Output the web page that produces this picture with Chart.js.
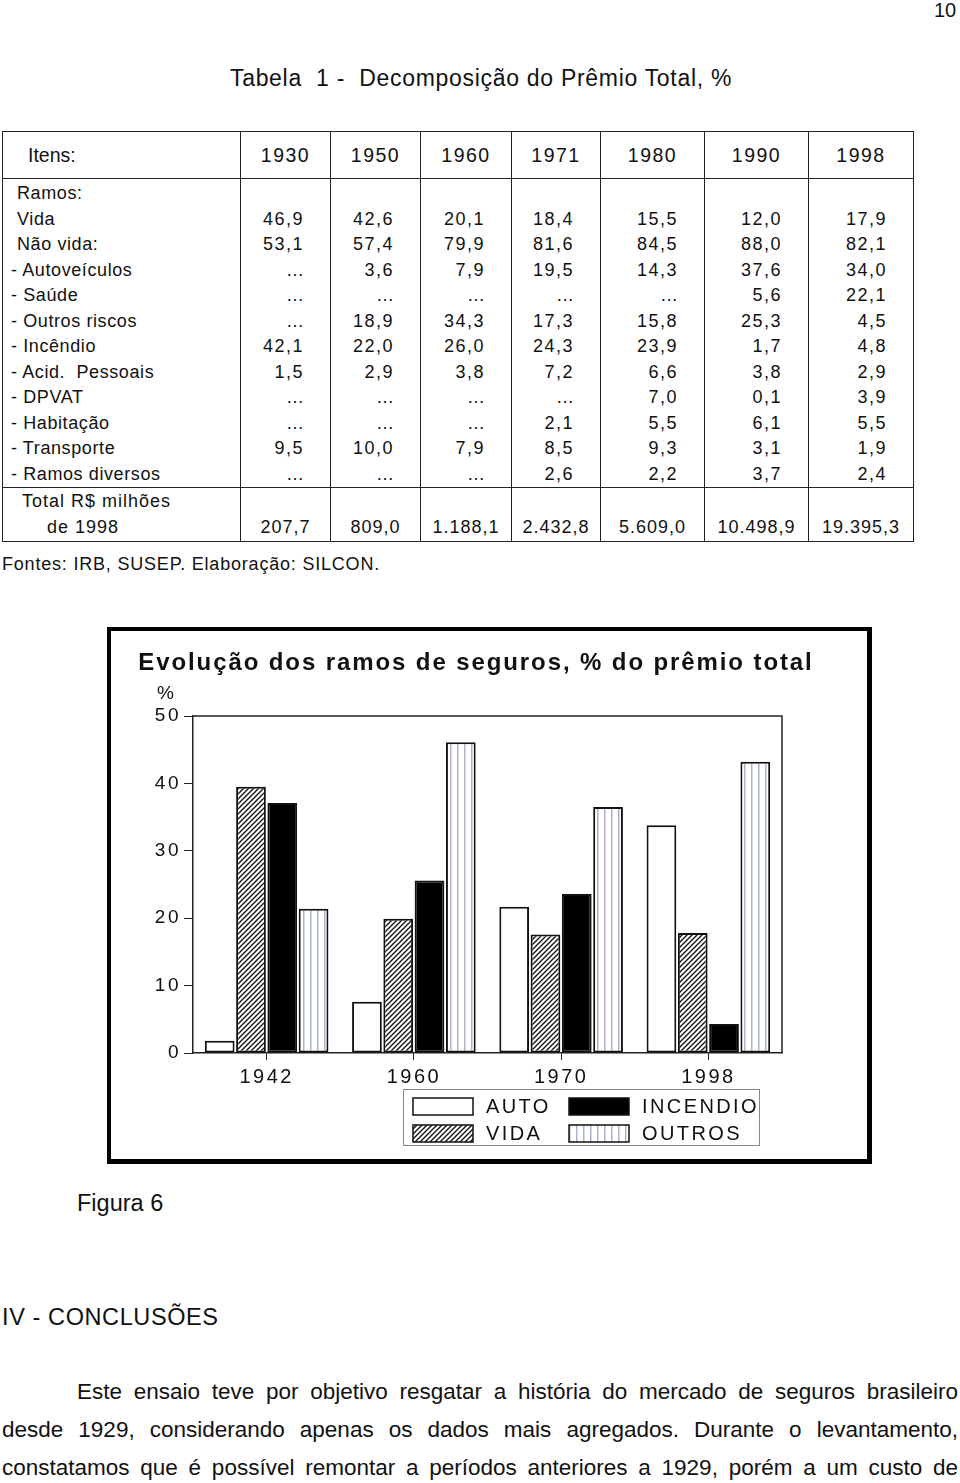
<!DOCTYPE html>
<html>
<head>
<meta charset="utf-8">
<script src="https://cdn.jsdelivr.net/npm/chart.js@4.4.1/dist/chart.umd.min.js"></script>
<style>
  html, body { margin: 0; padding: 0; background: #fff; }
  body { width: 960px; height: 1483px; position: relative; overflow: hidden;
         font-family: "Liberation Sans", Arial, sans-serif; color: #111; }
  .abs { position: absolute; white-space: nowrap; }
  #tab { position: absolute; left: 2px; top: 131px; border-collapse: collapse; table-layout: fixed;
         font-size: 18px; letter-spacing: 1.5px; }
  #tab th { height: 46px; border: 1.5px solid #222; font-weight: normal; font-size: 19.5px; text-align: center; padding: 0; }
  #tab th.lab { text-align: left; padding-left: 25px; letter-spacing: 0; }
  #tab td { height: 25.5px; padding: 0 26px 0 0; text-align: right; border-left: 1.5px solid #222;
            border-right: 1.5px solid #222; line-height: 25px; }
  #tab td.lab { text-align: left; padding: 0; letter-spacing: 0.6px; }
  #tab tr.first td { padding-top: 2px; }
  #tab tr.tot td { border-top: 1.5px solid #222; border-bottom: 1.5px solid #222; height: 51px;
                   vertical-align: bottom; padding: 0 0 1px 0; text-align: center; letter-spacing: 1px; }
  #tab tr.tot td.lab { text-align: left; line-height: 26px; }
  #frame { position: absolute; left: 107px; top: 627px; width: 756px; height: 528px;
           border: 4px solid #000; border-right-width: 5px; border-bottom-width: 5px; }
  .para { position: absolute; left: 2px; width: 956px; font-size: 22.5px; text-align: justify;
          text-align-last: justify; white-space: nowrap; }
</style>
</head>
<body>
<div class="abs" style="left:934px; top:-1px; font-size:20px;">10</div>
<div class="abs" style="left:0; width:962px; top:65px; text-align:center; font-size:23px; letter-spacing:0.7px;">Tabela&nbsp; 1 -&nbsp; Decomposição do Prêmio Total, %</div>

<table id="tab">
  <colgroup>
    <col style="width:238px"><col style="width:90px"><col style="width:90px"><col style="width:91px">
    <col style="width:89px"><col style="width:104px"><col style="width:104px"><col style="width:105px">
  </colgroup>
  <thead><tr id="headRow"></tr></thead>
  <tbody id="body"></tbody>
</table>

<div class="abs" style="left:2px; top:554px; font-size:18px; letter-spacing:0.8px;">Fontes: IRB, SUSEP. Elaboração: SILCON.</div>

<div id="frame">
  <canvas id="chart" width="756" height="528"></canvas>
</div>

<div class="abs" style="left:77px; top:1190px; font-size:23.5px;">Figura 6</div>
<div class="abs" style="left:2px; top:1304px; font-size:23.5px; letter-spacing:0.6px;">IV - CONCLUSÕES</div>

<div class="para" style="top:1379px; left:77px; width:881px;">Este ensaio teve por objetivo resgatar a história do mercado de seguros brasileiro</div>
<div class="para" style="top:1417px;">desde 1929, considerando apenas os dados mais agregados. Durante o levantamento,</div>
<div class="para" style="top:1455px;">constatamos que é possível remontar a períodos anteriores a 1929, porém a um custo de</div>

<script>
// tabela 1
const tableYears = ['1930', '1950', '1960', '1971', '1980', '1990', '1998']
const tableRows = [
  ['Ramos:', '', '', '', '', '', '', ''],
  ['Vida', '46,9', '42,6', '20,1', '18,4', '15,5', '12,0', '17,9'],
  ['Não vida:', '53,1', '57,4', '79,9', '81,6', '84,5', '88,0', '82,1'],
  ['- Autoveículos', '...', '3,6', '7,9', '19,5', '14,3', '37,6', '34,0'],
  ['- Saúde', '...', '...', '...', '...', '...', '5,6', '22,1'],
  ['- Outros riscos', '...', '18,9', '34,3', '17,3', '15,8', '25,3', '4,5'],
  ['- Incêndio', '42,1', '22,0', '26,0', '24,3', '23,9', '1,7', '4,8'],
  ['- Acid.  Pessoais', '1,5', '2,9', '3,8', '7,2', '6,6', '3,8', '2,9'],
  ['- DPVAT', '...', '...', '...', '...', '7,0', '0,1', '3,9'],
  ['- Habitação', '...', '...', '...', '2,1', '5,5', '6,1', '5,5'],
  ['- Transporte', '9,5', '10,0', '7,9', '8,5', '9,3', '3,1', '1,9'],
  ['- Ramos diversos', '...', '...', '...', '2,6', '2,2', '3,7', '2,4']
]
const tableTotals = ['207,7', '809,0', '1.188,1', '2.432,8', '5.609,0', '10.498,9', '19.395,3']

// figura 6
const categories = ['1942', '1960', '1970', '1998']
const autoValues = [1.8, 7.6, 21.7, 33.8]
const vidaValues = [39.5, 19.9, 17.6, 17.8]
const incendioValues = [37.1, 25.6, 23.6, 4.3]
const outrosValues = [21.4, 46.1, 36.5, 43.2]
const yTicks = [0, 10, 20, 30, 40, 50]

// build table
var head = document.getElementById('headRow')
head.innerHTML = '<th class="lab">Itens:</th>' + tableYears.map(y => '<th>' + y + '</th>').join('')
var body = document.getElementById('body')
var html = ''
tableRows.forEach((r, i) => {
  var pad = r[0].startsWith('-') ? 8 : 14
  html += '<tr' + (i === 0 ? ' class="first"' : '') + '>'
  html += '<td class="lab" style="padding-left:' + pad + 'px">' + r[0].replace('  ', '&nbsp; ') + '</td>'
  for (var k = 1; k < r.length; k++) {
    var v = r[k] === '...' ? '<span style="letter-spacing:0">…</span>' : r[k]
    html += '<td>' + v + '</td>'
  }
  html += '</tr>'
})
html += '<tr class="tot"><td class="lab"><div style="padding-left:19px">Total R$ milhões</div><div style="padding-left:44px">de 1998</div></td>'
html += tableTotals.map(t => '<td>' + t + '</td>').join('') + '</tr>'
body.innerHTML = html

var canvas = document.getElementById('chart')
var ctx = canvas.getContext('2d')

function makeHatch() {
  var c = document.createElement('canvas')
  c.width = 5
  c.height = 5
  var g = c.getContext('2d')
  g.fillStyle = '#fff'
  g.fillRect(0, 0, 5, 5)
  g.strokeStyle = '#111'
  g.lineWidth = 1.3
  g.beginPath(); g.moveTo(-1, 6); g.lineTo(6, -1); g.stroke()
  g.beginPath(); g.moveTo(-1, 1); g.lineTo(1, -1); g.stroke()
  g.beginPath(); g.moveTo(4, 6); g.lineTo(6, 4); g.stroke()
  return ctx.createPattern(c, 'repeat')
}

function makeStripes() {
  var c = document.createElement('canvas')
  c.width = 7
  c.height = 7
  var g = c.getContext('2d')
  g.fillStyle = '#fff'
  g.fillRect(0, 0, 7, 7)
  g.fillStyle = '#aab3c9'
  g.fillRect(3, 0, 1.5, 7)
  return ctx.createPattern(c, 'repeat')
}

var hatch = makeHatch()
var stripes = makeStripes()

const font = 'Liberation Sans, Arial, sans-serif'

// titulo, moldura do grafico e legenda
var decor = {
  id: 'decor',
  beforeDraw(chart) {
    chart.ctx.letterSpacing = '2.5px'
  },
  afterDraw(chart) {
    var c = chart.ctx
    var a = chart.chartArea
    c.save()
    c.strokeStyle = '#222'
    c.lineWidth = 1.5
    c.beginPath()
    c.moveTo(a.left, a.top)
    c.lineTo(a.right, a.top)
    c.lineTo(a.right, a.bottom)
    c.stroke()

    c.fillStyle = '#111'
    c.letterSpacing = '1.9px'
    c.font = 'bold 24px ' + font
    c.textAlign = 'center'
    c.textBaseline = 'middle'
    c.fillText('Evolução dos ramos de seguros, % do prêmio total', 365, 32)

    c.letterSpacing = '1px'
    c.font = '19px ' + font
    c.fillText('%', 55, 63)

    // legenda
    c.strokeStyle = '#888'
    c.lineWidth = 1
    c.strokeRect(292.5, 458.5, 356, 56)
    var spots = [[302, 467], [302, 494], [458, 467], [458, 494]]
    chart.data.datasets.forEach((ds, i) => {
      var p = spots[i]
      c.fillStyle = ds.backgroundColor
      c.fillRect(p[0], p[1], 60, 17)
      c.strokeStyle = '#111'
      c.lineWidth = 1.5
      c.strokeRect(p[0], p[1], 60, 17)
      c.fillStyle = '#111'
      c.font = '20px ' + font
      c.letterSpacing = '2.4px'
      c.textAlign = 'left'
      c.fillText(ds.label, p[0] + 73, p[1] + 9.5)
    })
    c.restore()
  }
}

var chart = new Chart(ctx, {
  type: 'bar',
  data: {
    labels: categories,
    datasets: [
      { label: 'AUTO', data: autoValues, backgroundColor: '#fff' },
      { label: 'VIDA', data: vidaValues, backgroundColor: hatch },
      { label: 'INCENDIO', data: incendioValues, backgroundColor: '#000' },
      { label: 'OUTROS', data: outrosValues, backgroundColor: stripes }
    ].map(d => Object.assign(d, {
      borderColor: '#111',
      borderWidth: 2,
      borderSkipped: false,
      barPercentage: 0.95,
      categoryPercentage: 0.85
    }))
  },
  options: {
    responsive: false,
    animation: false,
    layout: { padding: { left: 42, right: 85, top: 85, bottom: 66 } },
    plugins: {
      legend: { display: false },
      tooltip: { enabled: false },
      title: { display: false }
    },
    scales: {
      x: {
        grid: { drawOnChartArea: false, drawTicks: true, tickLength: 7, tickColor: '#222', offset: false },
        border: { color: '#222', width: 1.5 },
        ticks: { color: '#111', font: { family: font, size: 20 }, padding: 5, maxRotation: 0 },
        afterFit(s) { s.height = 40 }
      },
      y: {
        min: 0,
        max: 50,
        afterBuildTicks(s) { s.ticks = yTicks.map(v => ({ value: v })) },
        grid: { drawOnChartArea: false, drawTicks: true, tickLength: 9, tickColor: '#222' },
        border: { color: '#222', width: 1.5 },
        ticks: { color: '#111', font: { family: font, size: 19 }, padding: 3 },
        afterFit(s) { s.width = 40 }
      }
    }
  },
  plugins: [decor]
})
</script>
</body>
</html>
